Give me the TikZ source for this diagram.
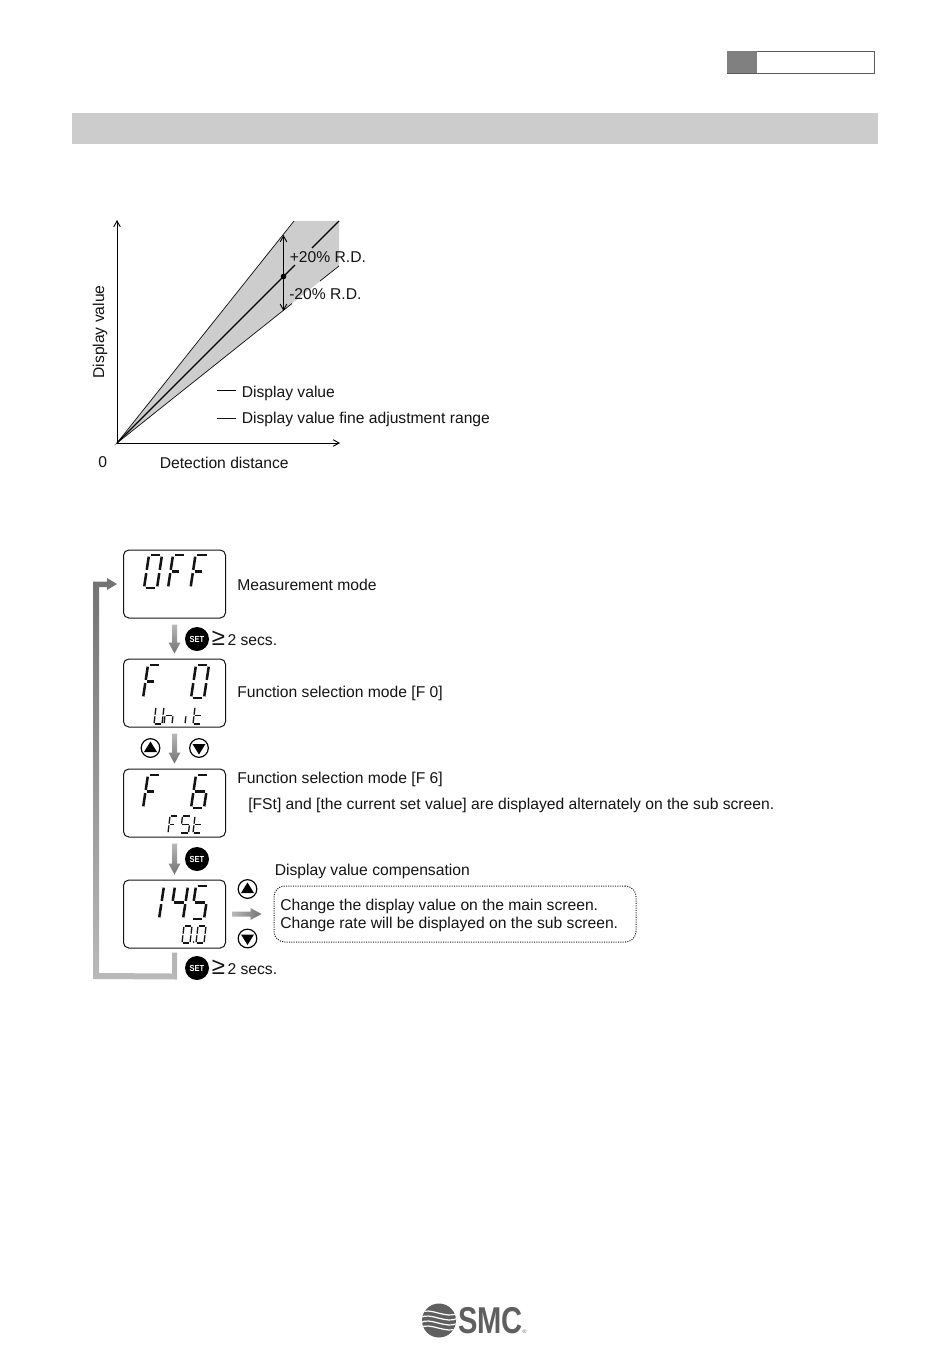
\documentclass[tikz,border=0pt]{standalone}
\usepackage{fontspec}
\setmainfont{Liberation Sans}
\usetikzlibrary{
  arrows.meta, calc, shapes.geometric
}
\definecolor{BD}{RGB}{204,204,204}
\definecolor{HD}{RGB}{128,128,128}
\definecolor{RG}{RGB}{205,205,205}
\definecolor{DG}{RGB}{20,20,20}
\definecolor{GL}{RGB}{185,185,185}
\definecolor{GM}{RGB}{115,115,115}
\definecolor{LM}{RGB}{95,95,95}

% seven segments, unit square
\newcommand\sA{\draw (.12,1)--(.88,1);}
\newcommand\sB{\draw (1,.95)--(1,.55);}
\newcommand\sC{\draw (1,.45)--(1,.05);}
\newcommand\sD{\draw (.12,0)--(.88,0);}
\newcommand\sE{\draw (0,.45)--(0,.05);}
\newcommand\sF{\draw (0,.95)--(0,.55);}
\newcommand\sG{\draw (.12,.5)--(.88,.5);}
\newcommand\sH{\draw (.12,.5)--(.68,.5);}
\newcommand\gO{\sA\sB\sC\sD\sE\sF}
\newcommand\gFF{\sA\sE\sF\sH}
\newcommand\gSix{\sA\sC\sD\sE\sF\sG}
\newcommand\gOne{\sB\sC}
\newcommand\gFour{\sB\sC\sF\sG}
\newcommand\gFive{\sA\sC\sD\sF\sG}
\newcommand\gU{\sB\sC\sD\sE\sF}
\newcommand\gN{\sC\sE\sG}
\newcommand\gI{\sE}
\newcommand\gT{\sD\sE\sF\sG}
\newcommand\segdig[7]{\begin{scope}[shift={(#1,#2)},
    x={(#3*.75pt,0pt)},y={(#5*.75pt,#4*.75pt)},line width=#6,draw=DG]#7\end{scope}}
\newcommand\bigdig[3]{\segdig{#1}{#2}{13}{33}{5}{1.9pt}{#3}}
\newcommand\subdig[3]{\segdig{#1}{#2}{8}{17}{2}{1pt}{#3}}
\newcommand\garrow[2]{\shade[top color=GL, bottom color=GM]
  ($(#1.south)+(-2.5,6)$) -- ($(#2.north)+(-2.5,-16)$) -- ($(#2.north)+(-6,-16)$)
  -- ($(#2.north)+(0,-5)$) -- ($(#2.north)+(6,-16)$) -- ($(#2.north)+(2.5,-16)$)
  -- ($(#1.south)+(2.5,6)$) -- cycle;}

\begin{document}
\begin{tikzpicture}[
  x=.75pt, y=-.75pt,
  font=\fontsize{11.75}{14}\selectfont,
  txt/.style={anchor=west, inner sep=0pt, text=DG, yshift=-.75pt},
  disp/.style={draw=DG, line width=.75pt, rounded corners=4pt,
               minimum width=76.5pt, minimum height=51pt, inner sep=0pt},
  setbtn/.style={circle, fill=black, text=white, minimum size=18pt, inner sep=0pt,
                 font=\fontsize{6.6}{7}\bfseries\selectfont},
  arrbtn/.style={circle, draw=black, line width=.9pt, fill=white,
                 minimum size=14pt, inner sep=0pt},
  axis/.style={-{Straight Barb[length=4.5pt,width=5pt]}, line width=.7pt, draw=black}
]
\useasboundingbox (0,0) rectangle (950,1360);

\fill[white] (0,0) rectangle (950,1360);
\fill[BD] (72,113) rectangle (878,144);
\draw[draw=DG!70, line width=.7pt] (727,51) rectangle (874.5,73);
\fill[HD] (727,51) rectangle (757,73);

% chart
\coordinate (org) at (117,443);
\coordinate (ytop) at (117,220);
\coordinate (xend) at (340,443);
\coordinate (pt) at (283.5,276.5);
\coordinate (up) at (283.5,235);
\coordinate (dn) at (283.5,311);
\fill[RG] (org) -- (294,221) -- (339,221) -- (339,266) -- cycle;
\draw[line width=.55pt, draw=DG] (294,221) -- (org) -- (292,303.5);
\draw[line width=.55pt, draw=DG] (320,281) -- (339,266);
\draw[line width=.85pt, draw=black] (org) -- (295,265);
\draw[line width=.85pt, draw=black] (312,248) -- (339,221);
\draw[axis] (org) -- (ytop);
\draw[axis] (org) -- (xend);
\draw[{Straight Barb[length=4.5pt,width=5pt]}-{Straight Barb[length=4.5pt,width=5pt]}, line width=.7pt] (up) -- (dn);
\fill[black] (pt) circle (2.8);

\node[txt] (plus)  at (289.5,256) {+20\% R.D.};
\node[txt] (minus) at (289,293) {-20\% R.D.};
\node[txt] (lval)  at (241.5,392) {Display value};
\node[txt] (lrng)  at (241.5,418.5) {Display value fine adjustment range};
\draw[line width=.7pt] (217,390.5) -- (236,390.5);
\draw[line width=.5pt, draw=DG] (217,418) -- (236,418);
\node[txt] (zero)  at (98,461.5) {0};
\node[txt] (xlab)  at (159.5,461.5) {Detection distance};
\node[text=DG, rotate=90, inner sep=0pt] (ylab) at (100,332) {Display value};

% mode flow
\node[disp] (off) at (174.5,584) {};
\node[disp] (fa)  at (174.5,693) {};
\node[disp] (fb)  at (174.5,803) {};
\node[disp] (val) at (174.5,914) {};

\bigdig{144}{588}{\gO}\bigdig{168}{588}{\gFF}\bigdig{190.5}{588}{\gFF}
\bigdig{143}{698}{\gFF}\bigdig{191}{698}{\gO}
\subdig{154}{724}{\gU}\subdig{164}{724}{\gN}\subdig{185}{724}{\gI}\subdig{193}{724}{\gT}
\bigdig{143}{808}{\gFF}\bigdig{191}{808}{\gSix}
\subdig{168}{833}{\gFF}\subdig{180.5}{833}{\gFive}\subdig{193}{833}{\gT}
\bigdig{146}{919}{\gOne}\bigdig{170}{919}{\gFour}\bigdig{191}{919}{\gFive}
\subdig{182}{943}{\gO}\subdig{196}{943}{\gO}
\fill[DG] (193.5,942) circle (.9);

\node[txt] (moff) at (237,583.5) {Measurement mode};
\node[txt] (mfa)  at (237,692.5) {Function selection mode [F 0]};
\node[txt] (mfb)  at (237,778) {Function selection mode [F 6]};
\node[txt] (mfs)  at (248,804) {[FSt] and [the current set value] are displayed alternately on the sub screen.};
\node[txt] (mcp)  at (274.5,870) {Display value compensation};
\node[draw=DG, densely dotted, line width=.75pt, rounded corners=8pt, minimum width=271.5pt,
      minimum height=42pt, inner sep=0pt] (tip) at (455,914) {};
\node[txt] (tipa) at (280,905) {Change the display value on the main screen.};
\node[txt] (tipb) at (280,923.5) {Change rate will be displayed on the sub screen.};

\node[setbtn] (sa) at (197,639) {\scalebox{.85}[1]{SET}};
\node[setbtn] (sb) at (197,859) {\scalebox{.85}[1]{SET}};
\node[setbtn] (sc) at (197,968) {\scalebox{.85}[1]{SET}};
\node[txt] (ga) at (211.5,637) {{\fontsize{18}{18}\selectfont ≥}\,2 secs.};
\node[txt] (gb) at (211.5,966) {{\fontsize{18}{18}\selectfont ≥}\,2 secs.};

\node[arrbtn] (ua) at (150.5,748) {};
\node[arrbtn] (da) at (199,748) {};
\node[arrbtn] (ub) at (247.5,889) {};
\node[arrbtn] (db) at (247.5,938.5) {};
\foreach \b in {ua,ub}
  \fill[black] ($(\b)+(-6.5,4)$) -- ($(\b)+(6.5,4)$) -- ($(\b)+(0,-6.5)$) -- cycle;
\foreach \b in {da,db}
  \fill[black] ($(\b)+(-6.5,-4)$) -- ($(\b)+(6.5,-4)$) -- ($(\b)+(0,6.5)$) -- cycle;

\garrow{off}{fa}
\garrow{fa}{fb}
\garrow{fb}{val}
\shade[left color=GL, right color=GM]
  ($(val.east)+(6,-2.5)$) -- ($(tip.west)+(-23,-2.5)$) -- ($(tip.west)+(-23,-6)$)
  -- ($(tip.west)+(-12,0)$) -- ($(tip.west)+(-23,6)$) -- ($(tip.west)+(-23,2.5)$)
  -- ($(val.east)+(6,2.5)$) -- cycle;

% return loop
\coordinate (lpin) at (off.west);
\shade[top color=GM, bottom color=GL]
  ($(val.south)+(-2.5,4)$) -- ($(val.south)+(-2.5,25)$) -- (99,973) -- (99,587)
  -- ($(lpin)+(-16,3)$) -- ($(lpin)+(-16,6)$) -- ($(lpin)+(-6,0)$) -- ($(lpin)+(-16,-6)$)
  -- ($(lpin)+(-16,-2.5)$) -- (93,581.5) -- (93,979) -- ($(val.south)+(2.5,31)$)
  -- ($(val.south)+(2.5,4)$) -- cycle;

% logo
\begin{scope}
  \clip (439,1320.5) circle (17);
  \fill[LM] (420,1300) rectangle (458,1340);
  \foreach \d in {-7,-2,3,8}
    \draw[white, line width=.9pt] (420,1320+\d) .. controls (430,1313+\d) and (446,1327+\d) .. (458,1320+\d);
\end{scope}
\node[inner sep=0pt, text=LM, font=\fontsize{28}{28}\bfseries\selectfont] (smc) at (490.5,1321)
  {\scalebox{.78}[1]{SMC}};
\node[inner sep=0pt, text=LM, font=\fontsize{4}{4}\selectfont] (reg) at (524.5,1332) {®};
\end{tikzpicture}
\end{document}
